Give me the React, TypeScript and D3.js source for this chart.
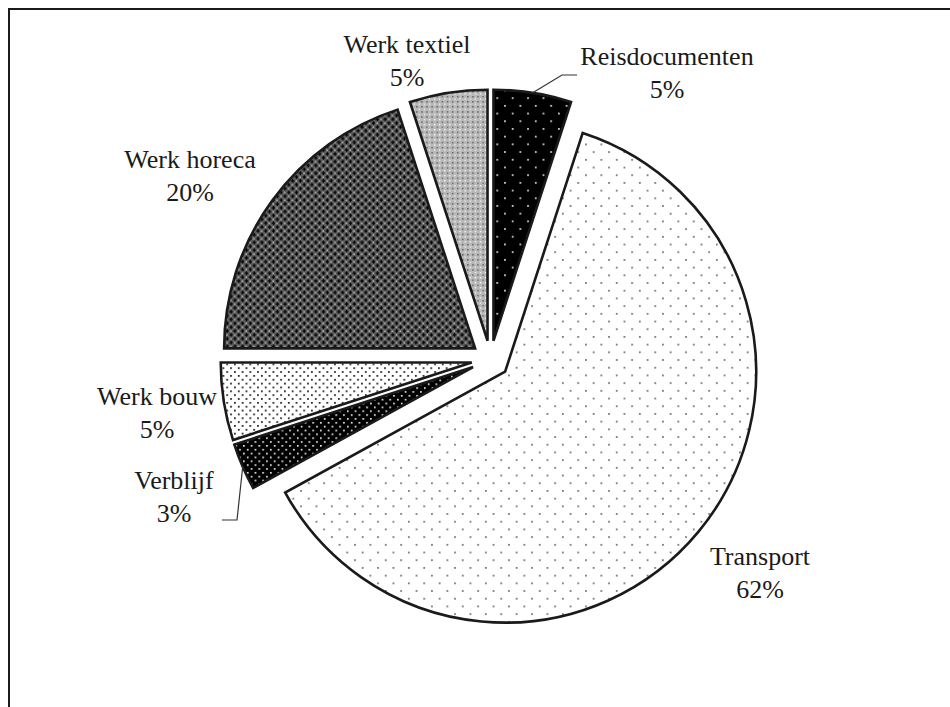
import React from "react";
import * as d3 from "d3";

// ---- data ----
const categories = ["Reisdocumenten", "Transport", "Verblijf", "Werk bouw", "Werk horeca", "Werk textiel"];
const values = [5, 62, 3, 5, 20, 5];
const percentLabels = ["5%", "62%", "3%", "5%", "20%", "5%"];

// ---- layout (not data) ----
const W = 950;
const H = 707;
const CX = 490.5;
const CY = 359.5;
const R = 251;
const EXPLODE = 19;
const FONT = 26;
const LINE = 33;
const patternIds = ["pReis", "pTransport", "pVerblijf", "pBouw", "pHoreca", "pTextiel"];
// label anchor (center x, first baseline)
const labelPos: [number, number][] = [
  [667, 65],
  [760, 565],
  [174, 489],
  [157, 405],
  [190, 168],
  [407, 53],
];
// leader lines: bend points (after arc mid point), null = none
const leaderPts: ([number, number][] | null)[] = [
  [[562, 75], [577, 75]],
  null,
  [[237, 520], [222, 520]],
  null,
  null,
  null,
];

export default function App() {
  const pie = d3.pie<number>().sort(null).value((d) => d);
  const arcs = pie(values);
  const arcGen = d3.arc<d3.PieArcDatum<number>>().innerRadius(0).outerRadius(R);

  const slices = arcs.map((a, i) => {
    const mid = (a.startAngle + a.endAngle) / 2;
    const ox = CX + EXPLODE * Math.sin(mid);
    const oy = CY - EXPLODE * Math.cos(mid);
    const px = ox + R * Math.sin(mid);
    const py = oy - R * Math.cos(mid);
    return { a, i, ox, oy, px, py };
  });

  return (
    <svg
      width={W}
      height={H}
      style={{ position: "absolute", left: 0, top: 0, background: "#fff" }}
    >
      <defs>
        <pattern id="pReis" patternUnits="userSpaceOnUse" width={15.4} height={15.4}>
          <rect width={15.4} height={15.4} fill="#000" />
          <rect x={3} y={3} width={1.6} height={1.6} fill="#fff" />
          <rect x={10.7} y={10.7} width={1.6} height={1.6} fill="#fff" />
        </pattern>
        <pattern id="pTransport" patternUnits="userSpaceOnUse" width={15.4} height={15.4}>
          <rect width={15.4} height={15.4} fill="#fff" />
          <rect x={3} y={3} width={1.6} height={1.6} fill="#555" />
          <rect x={10.7} y={10.7} width={1.6} height={1.6} fill="#555" />
        </pattern>
        <pattern id="pVerblijf" patternUnits="userSpaceOnUse" width={7.7} height={7.7}>
          <rect width={7.7} height={7.7} fill="#000" />
          <rect x={1} y={1} width={1.6} height={1.6} fill="#fff" />
          <rect x={4.85} y={4.85} width={1.6} height={1.6} fill="#fff" />
        </pattern>
        <pattern id="pBouw" patternUnits="userSpaceOnUse" width={7.7} height={7.7}>
          <rect width={7.7} height={7.7} fill="#fff" />
          <rect x={1} y={1} width={1.7} height={1.7} fill="#111" />
          <rect x={4.85} y={4.85} width={1.7} height={1.7} fill="#111" />
        </pattern>
        <pattern id="pHoreca" patternUnits="userSpaceOnUse" width={7.7} height={7.7}>
          <rect width={7.7} height={7.7} fill="#5e5e5e" />
          <rect x={0.6} y={1.3} width={3.6} height={1.3} fill="#000" />
          <rect x={1.75} y={0.15} width={1.3} height={3.6} fill="#000" />
          <rect x={4.45} y={5.15} width={3.6} height={1.3} fill="#000" />
          <rect x={5.6} y={4} width={1.3} height={3.6} fill="#000" />
          <rect x={5.4} y={1.5} width={1.1} height={1.1} fill="#fff" />
          <rect x={1.5} y={5.4} width={1.1} height={1.1} fill="#fff" />
        </pattern>
        <pattern id="pTextiel" patternUnits="userSpaceOnUse" width={5.1} height={5.1}>
          <rect width={5.1} height={5.1} fill="#b8b8b8" />
          <rect x={0} y={0} width={1.4} height={1.4} fill="#5e5e5e" />
          <rect x={2.5} y={2.5} width={1.3} height={1.3} fill="#fff" />
        </pattern>
      </defs>

      <rect x={9} y={9} width={W + 20} height={H + 20} fill="#fff" stroke="#1a1a1a" strokeWidth={2} />

      {slices.map(({ a, i, ox, oy }) => (
        <path
          key={categories[i]}
          d={arcGen(a) || ""}
          transform={`translate(${ox},${oy})`}
          fill={`url(#${patternIds[i]})`}
          stroke="#1a1a1a"
          strokeWidth={2.6}
          strokeLinejoin="miter"
        />
      ))}

      {slices.map(({ i, px, py }) => {
        const pts = leaderPts[i];
        if (!pts) return null;
        const all: [number, number][] = [[px, py], ...pts];
        return (
          <path
            key={"l" + i}
            d={d3.line()(all) || ""}
            fill="none"
            stroke="#333"
            strokeWidth={1.2}
          />
        );
      })}

      {categories.map((c, i) => (
        <text
          key={"t" + c}
          x={labelPos[i][0]}
          y={labelPos[i][1]}
          textAnchor="middle"
          fontFamily="'Liberation Serif', 'Times New Roman', serif"
          fontSize={FONT}
          fill="#1a1a1a"
        >
          <tspan x={labelPos[i][0]}>{c}</tspan>
          <tspan x={labelPos[i][0]} dy={LINE}>{percentLabels[i]}</tspan>
        </text>
      ))}
    </svg>
  );
}
